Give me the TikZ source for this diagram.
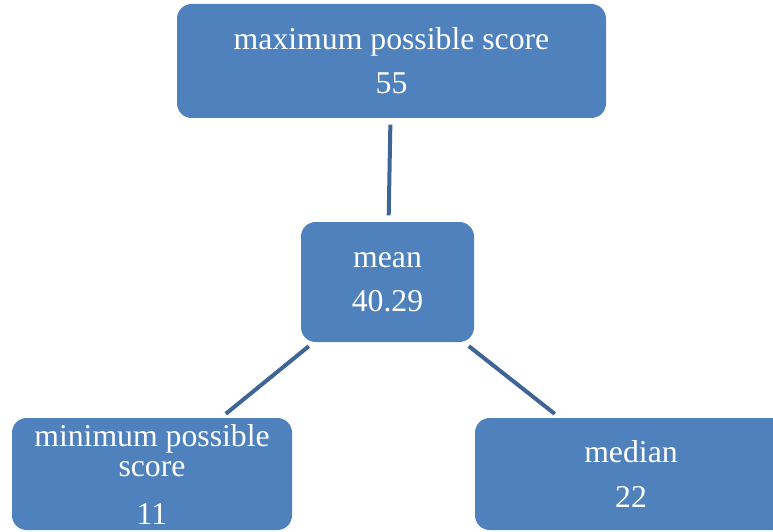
\documentclass[tikz,border=0pt]{standalone}
\usepackage{fontspec}
\setmainfont{Liberation Serif}
\definecolor{boxblue}{RGB}{79,129,189}
\definecolor{linkblue}{RGB}{62,101,150}
\tikzset{
  scorebox/.style={rectangle, rounded corners=11pt, fill=boxblue, text=white,
    inner sep=0pt, outer sep=0pt, align=center,
    font=\fontsize{23.8}{22.5}\selectfont},
  link/.style={-, line width=3pt, draw=linkblue, shorten <=5pt, shorten >=5pt}
}
\begin{document}
\begin{tikzpicture}[x=0.75pt,y=-0.75pt]
      \useasboundingbox (0,0) rectangle (773,531);
      \node[scorebox, minimum width=321.75pt, minimum height=85.5pt] (maxs) at (391.5,61){maximum possible score\\[10.5pt]55};
      \node[scorebox, minimum width=129.75pt, minimum height=90pt] (mean) at (387.5,282){mean\\[10.5pt]40.29};
      \node[scorebox, minimum width=210pt, minimum height=84pt] (mins) at (152,474){minimum possible\\score\\[13.5pt]11};
      \node[scorebox, minimum width=234pt, minimum height=84pt] (median) at (631,474){median\\[11pt]22};

      \draw (maxs) edge[link] (mean);
      \draw (mean) edge[link] (mins);
      \draw (mean) edge[link] (median);
    \end{tikzpicture}
\end{document}
